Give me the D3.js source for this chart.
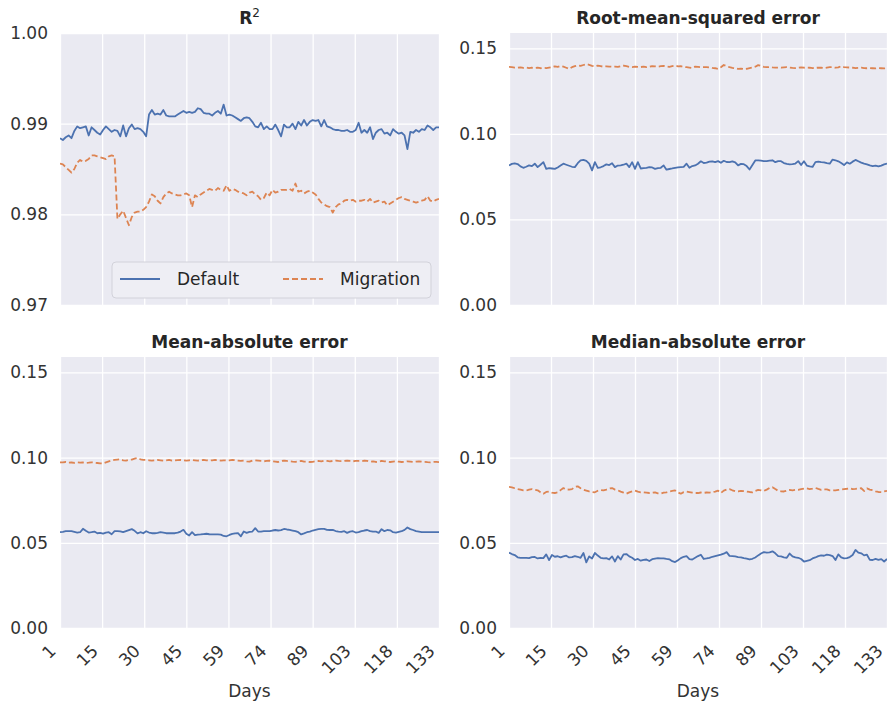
<!DOCTYPE html>
<html>
<head>
<meta charset="utf-8">
<script src="https://cdn.jsdelivr.net/npm/d3@7"></script>
<style>
  body { margin: 0; background: #fff; }
  text { font-family: "DejaVu Sans", sans-serif; }
</style>
</head>
<body>
<div id="chart"></div>
<script>
// ---- data ----
var days = d3.range(1, 134);
var tickDays = [1, 15, 30, 45, 59, 74, 89, 103, 118, 133];
var seriesNames = ["Default", "Migration"];
var r2Ticks = [0.97, 0.98, 0.99, 1.00];
var errTicks = [0.00, 0.05, 0.10, 0.15];

var r2Default = [
  .9884,.9882,.9885,.9887,.9884,.9892,.9897,.9895,.9896,.9897,
  .9887,.9896,.9893,.9890,.9888,.9893,.9897,.9894,.9891,.9893,
  .9892,.9886,.9898,.9886,.9895,.9899,.9894,.9895,.9894,.9891,
  .9886,.9910,.9915,.9910,.9911,.9910,.9915,.9909,.9908,.9908,
  .9908,.9910,.9912,.9914,.9912,.9913,.9912,.9913,.9917,.9916,
  .9912,.9911,.9911,.9909,.9912,.9914,.9911,.9921,.9909,.9910,
  .9909,.9907,.9905,.9903,.9906,.9907,.9906,.9902,.9897,.9896,
  .9901,.9894,.9897,.9894,.9894,.9899,.9893,.9886,.9899,.9896,
  .9896,.9900,.9894,.9902,.9898,.9904,.9898,.9902,.9904,.9903,
  .9904,.9897,.9904,.9897,.9896,.9894,.9893,.9893,.9892,.9892,
  .9893,.9891,.9891,.9893,.9901,.9890,.9893,.9890,.9896,.9883,
  .9890,.9893,.9894,.9889,.9890,.9887,.9894,.9891,.9889,.9890,
  .9887,.9872,.9891,.9890,.9893,.9891,.9894,.9893,.9898,.9896,
  .9893,.9896,.9896];
var r2Migration = [
  .9856,.9855,.9852,.9849,.9846,.9850,.9857,.9860,.9858,.9859,
  .9861,.9865,.9865,.9864,.9863,.9862,.9861,.9864,.9865,.9864,
  .9795,.9800,.9804,.9796,.9788,.9797,.9802,.9803,.9803,.9805,
  .9808,.9814,.9822,.9820,.9815,.9812,.9819,.9823,.9825,.9823,
  .9822,.9821,.9821,.9822,.9823,.9821,.9808,.9821,.9819,.9822,
  .9824,.9826,.9828,.9827,.9826,.9829,.9827,.9826,.9832,.9826,
  .9828,.9827,.9825,.9824,.9823,.9821,.9824,.9825,.9822,.9820,
  .9816,.9818,.9824,.9821,.9827,.9824,.9825,.9827,.9827,.9827,
  .9828,.9826,.9834,.9825,.9826,.9823,.9825,.9826,.9824,.9822,
  .9817,.9813,.9811,.9809,.9808,.9802,.9808,.9811,.9812,.9815,
  .9816,.9815,.9816,.9814,.9815,.9815,.9816,.9814,.9817,.9813,
  .9814,.9815,.9813,.9814,.9810,.9812,.9814,.9816,.9818,.9819,
  .9817,.9816,.9815,.9814,.9813,.9814,.9815,.9816,.9820,.9815,
  .9814,.9816,.9817];

var rmseDefault = [
  .0816,.0825,.0828,.0824,.0810,.0802,.0808,.0816,.0812,.0826,
  .0806,.0820,.0835,.0796,.0800,.0798,.0796,.0804,.0815,.0826,
  .0820,.0814,.0808,.0806,.0829,.0845,.0848,.0842,.0826,.0787,
  .0835,.0802,.0805,.0812,.0822,.0818,.0829,.0806,.0815,.0816,
  .0820,.0826,.0806,.0835,.0796,.0835,.0798,.0800,.0802,.0806,
  .0804,.0796,.0800,.0802,.0816,.0791,.0795,.0798,.0802,.0804,
  .0806,.0808,.0826,.0802,.0812,.0816,.0826,.0840,.0830,.0832,
  .0838,.0840,.0835,.0841,.0831,.0843,.0836,.0835,.0840,.0834,
  .0816,.0825,.0823,.0812,.0792,.0818,.0845,.0846,.0844,.0841,
  .0841,.0844,.0846,.0835,.0841,.0841,.0830,.0825,.0822,.0824,
  .0827,.0841,.0818,.0840,.0815,.0810,.0807,.0835,.0838,.0835,
  .0834,.0829,.0826,.0850,.0846,.0840,.0830,.0818,.0834,.0826,
  .0838,.0848,.0840,.0832,.0826,.0822,.0816,.0812,.0815,.0810,
  .0815,.0822,.0826];
var rmseMigration = [
  .1392,.1390,.1388,.1387,.1389,.1386,.1388,.1385,.1387,.1386,.1388,.1384,.1386,.1385,.1388,
  .1391,.1395,.1392,.1397,.1393,.1387,.1380,.1390,.1396,.1400,.1398,.1403,.1408,.1404,.1398,
  .1395,.1399,.1396,.1393,.1395,.1394,.1393,.1394,.1392,.1396,.1399,.1396,.1392,.1390,.1393,
  .1392,.1391,.1393,.1390,.1392,.1396,.1395,.1393,.1396,.1398,.1394,.1392,.1396,.1399,.1395,
  .1396,.1392,.1390,.1388,.1386,.1393,.1392,.1390,.1390,.1391,.1389,.1386,.1384,.1380,.1390,
  .1403,.1396,.1390,.1386,.1384,.1380,.1382,.1379,.1381,.1385,.1388,.1393,.1402,.1398,.1392,
  .1390,.1391,.1389,.1388,.1388,.1387,.1389,.1390,.1388,.1386,.1385,.1387,.1389,.1387,.1388,
  .1387,.1385,.1386,.1388,.1387,.1385,.1388,.1390,.1391,.1387,.1389,.1396,.1391,.1389,.1388,
  .1387,.1385,.1386,.1387,.1385,.1384,.1385,.1384,.1383,.1385,.1384,.1383,.1384];

var maeDefault = [
  .0562,.0564,.0568,.0568,.0568,.0564,.0560,.0562,.0582,.0570,
  .0560,.0562,.0566,.0556,.0558,.0554,.0560,.0562,.0550,.0568,
  .0568,.0567,.0562,.0568,.0574,.0580,.0570,.0555,.0562,.0556,
  .0568,.0560,.0556,.0556,.0558,.0562,.0560,.0556,.0557,.0556,
  .0556,.0560,.0566,.0576,.0553,.0543,.0562,.0545,.0548,.0549,
  .0551,.0553,.0550,.0549,.0549,.0549,.0548,.0540,.0538,.0546,
  .0552,.0555,.0556,.0538,.0566,.0558,.0564,.0566,.0586,.0566,
  .0566,.0568,.0568,.0568,.0572,.0575,.0572,.0574,.0581,.0578,
  .0576,.0572,.0568,.0562,.0549,.0555,.0562,.0566,.0572,.0576,
  .0580,.0582,.0582,.0576,.0575,.0576,.0569,.0566,.0564,.0568,
  .0558,.0565,.0568,.0560,.0562,.0568,.0572,.0575,.0568,.0565,
  .0566,.0558,.0580,.0568,.0575,.0573,.0562,.0560,.0564,.0568,
  .0576,.0590,.0580,.0575,.0568,.0565,.0562,.0563,.0562,.0562,
  .0563,.0562,.0562];
var maeMigration = [
  .0972,.0972,.0974,.0970,.0971,.0969,.0972,.0970,.0971,.0969,.0970,.0972,.0970,.0968,.0966,
  .0966,.0972,.0978,.0983,.0986,.0988,.0990,.0984,.0982,.0986,.0988,.0994,.0997,.0990,.0986,
  .0986,.0984,.0982,.0984,.0986,.0984,.0982,.0984,.0986,.0982,.0984,.0985,.0986,.0984,.0982,
  .0984,.0986,.0984,.0982,.0984,.0986,.0984,.0982,.0984,.0986,.0985,.0982,.0984,.0983,.0984,
  .0986,.0984,.0982,.0980,.0982,.0978,.0976,.0982,.0984,.0982,.0980,.0978,.0980,.0982,.0978,
  .0976,.0974,.0980,.0982,.0980,.0978,.0976,.0975,.0978,.0980,.0976,.0976,.0974,.0975,.0978,
  .0980,.0978,.0982,.0980,.0978,.0980,.0982,.0980,.0979,.0980,.0982,.0980,.0978,.0980,.0980,
  .0978,.0982,.0980,.0976,.0978,.0974,.0976,.0980,.0978,.0976,.0974,.0976,.0978,.0976,.0974,
  .0975,.0978,.0976,.0974,.0976,.0978,.0976,.0975,.0973,.0972,.0974,.0975,.0973];

var medaeDefault = [
  .0442,.0434,.0428,.0415,.0412,.0412,.0412,.0410,.0416,.0417,
  .0408,.0412,.0410,.0432,.0398,.0428,.0418,.0421,.0414,.0420,
  .0424,.0414,.0416,.0422,.0418,.0412,.0440,.0385,.0420,.0408,
  .0440,.0425,.0412,.0408,.0410,.0402,.0420,.0390,.0422,.0402,
  .0432,.0434,.0420,.0412,.0399,.0405,.0395,.0400,.0402,.0393,
  .0404,.0407,.0410,.0409,.0408,.0405,.0403,.0392,.0387,.0398,
  .0410,.0418,.0422,.0404,.0402,.0412,.0422,.0430,.0405,.0408,
  .0412,.0418,.0422,.0426,.0430,.0436,.0445,.0423,.0422,.0420,
  .0416,.0414,.0410,.0407,.0402,.0406,.0414,.0426,.0437,.0445,
  .0442,.0444,.0450,.0438,.0422,.0420,.0415,.0412,.0437,.0420,
  .0414,.0412,.0405,.0390,.0394,.0398,.0408,.0414,.0422,.0426,
  .0424,.0430,.0428,.0422,.0399,.0432,.0414,.0408,.0410,.0416,
  .0428,.0458,.0442,.0438,.0426,.0430,.0400,.0399,.0405,.0400,
  .0404,.0390,.0405];
var medaeMigration = [
  .0828,.0825,.0820,.0815,.0812,.0808,.0806,.0812,.0815,.0811,
  .0808,.0796,.0788,.0798,.0801,.0794,.0792,.0796,.0809,.0821,
  .0813,.0812,.0815,.0828,.0831,.0820,.0811,.0806,.0801,.0798,
  .0796,.0805,.0809,.0807,.0812,.0818,.0821,.0812,.0808,.0800,
  .0794,.0788,.0796,.0802,.0806,.0800,.0796,.0796,.0794,.0792,
  .0794,.0796,.0790,.0788,.0794,.0796,.0801,.0804,.0807,.0796,
  .0788,.0797,.0800,.0797,.0794,.0792,.0792,.0795,.0793,.0795,
  .0794,.0797,.0800,.0806,.0792,.0806,.0812,.0815,.0808,.0803,
  .0801,.0805,.0803,.0801,.0798,.0796,.0804,.0810,.0808,.0804,
  .0812,.0822,.0826,.0815,.0805,.0802,.0801,.0806,.0810,.0808,
  .0810,.0811,.0815,.0818,.0819,.0815,.0818,.0822,.0816,.0811,
  .0814,.0813,.0808,.0807,.0808,.0810,.0812,.0815,.0817,.0820,
  .0815,.0816,.0819,.0820,.0804,.0819,.0812,.0808,.0802,.0798,
  .0797,.0801,.0805];

// ---- layout ----
var svgWidth = 889, svgHeight = 705;
var colors = ["#4c72b0", "#dd8452"];

var panels = [
  {title: "R", sup: "2", series: [r2Default, r2Migration], domain: [0.97, 1.00], ticks: r2Ticks,
   left: 60, right: 439, top: 33, bottom: 305, xLabels: false, legend: true},
  {title: "Root-mean-squared error", series: [rmseDefault, rmseMigration], domain: [0, 0.159], ticks: errTicks,
   left: 509, right: 887, top: 33, bottom: 305, xLabels: false},
  {title: "Mean-absolute error", series: [maeDefault, maeMigration], domain: [0, 0.159], ticks: errTicks,
   left: 60, right: 439, top: 357, bottom: 628, xLabels: true},
  {title: "Median-absolute error", series: [medaeDefault, medaeMigration], domain: [0, 0.159], ticks: errTicks,
   left: 509, right: 887, top: 357, bottom: 628, xLabels: true}
];

var svg = d3.select("#chart").append("svg")
    .attr("width", svgWidth).attr("height", svgHeight);

panels.forEach(function(p, pi) {
    var w = p.right - p.left, h = p.bottom - p.top;
    var g = svg.append("g").attr("transform", `translate(${p.left}, ${p.top})`);

    var x = d3.scaleLinear().domain([1, 133]).range([0, w]);
    var y = d3.scaleLinear().domain(p.domain).range([h, 0]);
    // tick positions are evenly spaced over the day range, labels are truncated days
    var tickPos = tickDays.map(function(d, i) { return 1 + i * 132 / (tickDays.length - 1); });

    g.append("rect").attr("width", w).attr("height", h).attr("fill", "#eaeaf2");

    var xAxis = g.append("g").attr("transform", `translate(0, ${h})`)
        .call(d3.axisBottom(x).tickValues(tickPos).tickSize(-h).tickFormat(""));
    var yAxis = g.append("g")
        .call(d3.axisLeft(y).tickValues(p.ticks).tickSize(-w).tickFormat(d3.format(".2f")));
    [xAxis, yAxis].forEach(function(a) {
        a.select(".domain").remove();
        a.selectAll(".tick line").attr("stroke", "#fff").attr("stroke-width", 1.3);
    });
    yAxis.selectAll(".tick text")
        .attr("x", -12).attr("font-size", 17).attr("fill", "#333")
        .style("font-family", "DejaVu Sans, sans-serif");

    if (p.xLabels) {
        tickPos.forEach(function(t, i) {
            g.append("text")
                .attr("transform", `translate(${x(t) - 3}, ${h + 24}) rotate(-45)`)
                .attr("text-anchor", "end").attr("font-size", 17).attr("fill", "#333")
                .text(tickDays[i]);
        });
        g.append("text")
            .attr("x", w / 2).attr("y", h + 69)
            .attr("text-anchor", "middle").attr("font-size", 17).attr("fill", "#333")
            .text("Days");
    }

    var clipId = "clip" + pi;
    g.append("clipPath").attr("id", clipId)
        .append("rect").attr("width", w).attr("height", h);

    p.series.forEach(function(vals, si) {
        var line = d3.line()
            .x(function(d, i) { return x(days[i]); })
            .y(function(d) { return y(d); });
        g.append("path").datum(vals)
            .attr("clip-path", `url(#${clipId})`)
            .attr("fill", "none")
            .attr("stroke", colors[si])
            .attr("stroke-width", 1.8)
            .attr("stroke-linejoin", "round")
            .attr("stroke-dasharray", si === 1 ? "6,3" : null)
            .attr("d", line);
    });

    var title = svg.append("text")
        .attr("x", p.left + w / 2).attr("y", p.top - 9)
        .attr("text-anchor", "middle").attr("font-size", 17)
        .attr("font-weight", "bold").attr("fill", "#262626")
        .text(p.title);
    if (p.sup) {
        title.append("tspan").attr("font-size", 12).attr("font-weight", "normal")
            .attr("dy", -7).text(p.sup);
    }

    if (p.legend) {
        var lg = g.append("g").attr("transform", `translate(${112 - p.left}, ${262 - p.top})`);
        lg.append("rect").attr("width", 319).attr("height", 36).attr("rx", 4)
            .attr("fill", "#eeeef4").attr("stroke", "#d2d2da");
        var entryX = [8, 171];
        seriesNames.forEach(function(name, si) {
            lg.append("line")
                .attr("x1", entryX[si]).attr("x2", entryX[si] + 40)
                .attr("y1", 17).attr("y2", 17)
                .attr("stroke", colors[si]).attr("stroke-width", 1.8)
                .attr("stroke-dasharray", si === 1 ? "6,3" : null);
            lg.append("text")
                .attr("x", entryX[si] + 57).attr("y", 23)
                .attr("font-size", 17).attr("fill", "#262626")
                .text(name);
        });
    }
});
</script>
</body>
</html>
